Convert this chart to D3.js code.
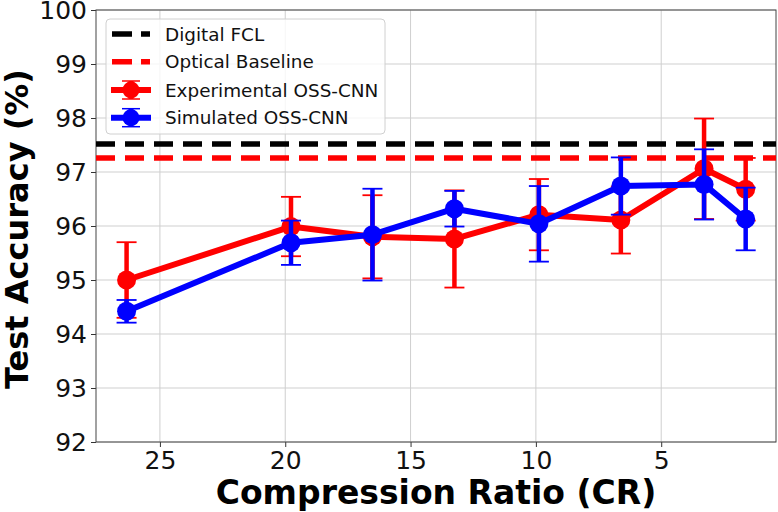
<!DOCTYPE html>
<html>
<head>
<meta charset="utf-8">
<script src="https://cdn.jsdelivr.net/npm/d3@7/dist/d3.min.js"></script>
<style>
  html, body { margin: 0; padding: 0; background: #fff; }
  svg { display: block; font-family: "DejaVu Sans", sans-serif; }
</style>
</head>
<body>
<svg id="chart" width="778" height="512"></svg>
<script>
// ---- data ----
const compressionRatio = [26.33, 19.77, 16.52, 13.25, 9.88, 6.61, 3.29, 1.63];
const experimentalAcc  = [95.00, 95.99, 95.80, 95.76, 96.21, 96.11, 97.06, 96.68];
const experimentalErr  = [0.70, 0.55, 0.77, 0.90, 0.66, 0.62, 0.93, 0.58];
const simulatedAcc     = [94.42, 95.69, 95.84, 96.32, 96.04, 96.74, 96.77, 96.13];
const simulatedErr     = [0.21, 0.41, 0.85, 0.33, 0.70, 0.53, 0.65, 0.58];
const digitalFCL = 97.52;
const opticalBaseline = 97.26;
const xTicks = [25, 20, 15, 10, 5];
const yTicks = [92, 93, 94, 95, 96, 97, 98, 99, 100];
const legendLabels = ["Digital FCL", "Optical Baseline", "Experimental OSS-CNN", "Simulated OSS-CNN"];

// ---- layout ----
const L = 96, R = 776, T = 10, B = 442;
const svg = d3.select("#chart");
const x = d3.scaleLinear().domain([27.55, 0.42]).range([L, R]);
const y = d3.scaleLinear().domain([92, 100]).range([B, T]);

// grid
const grid = svg.append("g");
grid.selectAll("line.gx").data(xTicks).join("line")
  .attr("x1", d => x(d)).attr("x2", d => x(d)).attr("y1", T).attr("y2", B)
  .attr("stroke", "#cfcfcf").attr("stroke-width", 1);
grid.selectAll("line.gy").data(yTicks).join("line")
  .attr("x1", L).attr("x2", R).attr("y1", d => y(d)).attr("y2", d => y(d))
  .attr("stroke", "#cfcfcf").attr("stroke-width", 1);

// axes
const xAxis = svg.append("g").attr("transform", `translate(0,${B})`)
  .call(d3.axisBottom(x).tickValues(xTicks).tickSize(5).tickPadding(4).tickFormat(d3.format("d")));
const yAxis = svg.append("g").attr("transform", `translate(${L},0)`)
  .call(d3.axisLeft(y).tickValues(yTicks).tickSize(5).tickPadding(4).tickFormat(d3.format("d")));
[xAxis, yAxis].forEach(a => {
  a.select(".domain").remove();
  a.selectAll("line").attr("stroke", "#333");
  a.selectAll("text").attr("font-family", "DejaVu Sans").attr("font-size", 25).attr("fill", "#111");
});
// frame
svg.append("rect").attr("x", L).attr("y", T).attr("width", R - L).attr("height", B - T)
  .attr("fill", "none").attr("stroke", "#444").attr("stroke-width", 1);

// horizontal reference lines
const refs = [{v: digitalFCL, c: "#000"}, {v: opticalBaseline, c: "#ff0000"}];
svg.append("g").selectAll("line").data(refs).join("line")
  .attr("x1", L).attr("x2", R).attr("y1", d => y(d.v)).attr("y2", d => y(d.v))
  .attr("stroke", d => d.c).attr("stroke-width", 5.5).attr("stroke-dasharray", "19,10");

// series
const series = [
  {acc: experimentalAcc, err: experimentalErr, c: "#ff0000"},
  {acc: simulatedAcc, err: simulatedErr, c: "#0000ff"}
];
const line = d3.line().x(d => x(d[0])).y(d => y(d[1]));
series.forEach(s => {
  const pts = compressionRatio.map((cr, i) => [cr, s.acc[i], s.err[i]]);
  const g = svg.append("g");
  g.selectAll("line.eb").data(pts).join("line")
    .attr("x1", d => x(d[0])).attr("x2", d => x(d[0]))
    .attr("y1", d => y(d[1] - d[2])).attr("y2", d => y(d[1] + d[2]))
    .attr("stroke", s.c).attr("stroke-width", 4.5);
  [-1, 1].forEach(sg => {
    g.selectAll("line.cap" + sg).data(pts).join("line")
      .attr("x1", d => x(d[0]) - 10).attr("x2", d => x(d[0]) + 10)
      .attr("y1", d => y(d[1] + sg * d[2])).attr("y2", d => y(d[1] + sg * d[2]))
      .attr("stroke", s.c).attr("stroke-width", 1.8);
  });
  g.append("path").datum(pts).attr("d", line)
    .attr("fill", "none").attr("stroke", s.c).attr("stroke-width", 6).attr("stroke-linejoin", "round");
  g.selectAll("circle").data(pts).join("circle")
    .attr("cx", d => x(d[0])).attr("cy", d => y(d[1])).attr("r", 9.5).attr("fill", s.c);
});

// axis titles
svg.append("text").attr("x", (L + R) / 2).attr("y", 504).attr("text-anchor", "middle")
  .attr("font-family", "DejaVu Sans").attr("font-weight", "bold").attr("font-size", 33).attr("fill", "#000")
  .text("Compression Ratio (CR)");
svg.append("text").attr("transform", "translate(28,229) rotate(-90)").attr("text-anchor", "middle")
  .attr("font-family", "DejaVu Sans").attr("font-weight", "bold").attr("font-size", 32).attr("fill", "#000")
  .text("Test Accuracy (%)");

// legend
const lg = svg.append("g");
lg.append("rect").attr("x", 106).attr("y", 19).attr("width", 279).attr("height", 115).attr("rx", 4)
  .attr("fill", "#fff").attr("fill-opacity", 0.8).attr("stroke", "#d0d0d0").attr("stroke-width", 1);
const rows = [34, 61.7, 90, 117.7];
const lcol = ["#000", "#ff0000", "#ff0000", "#0000ff"];
rows.forEach((ry, i) => {
  if (i < 2) {
    lg.append("line").attr("x1", 112).attr("x2", 150).attr("y1", ry).attr("y2", ry)
      .attr("stroke", lcol[i]).attr("stroke-width", 5.5).attr("stroke-dasharray", "20,9");
  } else {
    lg.append("line").attr("x1", 111).attr("x2", 151).attr("y1", ry).attr("y2", ry)
      .attr("stroke", lcol[i]).attr("stroke-width", 6);
    lg.append("line").attr("x1", 131).attr("x2", 131).attr("y1", ry - 9).attr("y2", ry + 9)
      .attr("stroke", lcol[i]).attr("stroke-width", 5);
    [-9, 9].forEach(o => lg.append("line").attr("x1", 122).attr("x2", 140).attr("y1", ry + o).attr("y2", ry + o)
      .attr("stroke", lcol[i]).attr("stroke-width", 1.5));
    lg.append("circle").attr("cx", 131).attr("cy", ry).attr("r", 8.5).attr("fill", lcol[i]);
  }
  lg.append("text").attr("x", 165).attr("y", ry + 6.5)
    .attr("font-family", "DejaVu Sans").attr("font-size", 18.4).attr("fill", "#111")
    .text(legendLabels[i]);
});
</script>
</body>
</html>
